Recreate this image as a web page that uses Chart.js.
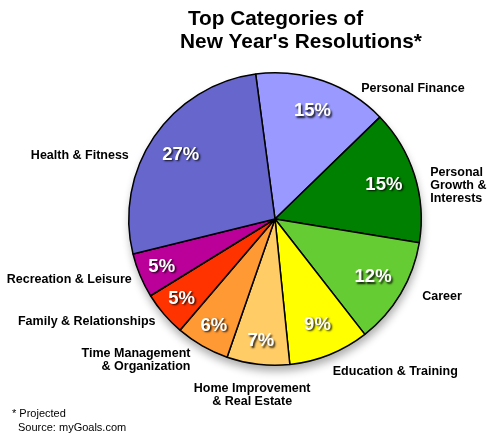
<!DOCTYPE html>
<html>
<head>
<meta charset="utf-8">
<script src="https://cdn.jsdelivr.net/npm/chart.js@4/dist/chart.umd.min.js"></script>
<style>
html,body{margin:0;padding:0;background:#fff;}
#wrap{width:489px;height:436px;position:relative;}
</style>
</head>
<body>
<div id="wrap"><canvas id="c" width="489" height="436"></canvas></div>
<script>
// ---- data ----
const categories = [
  'Personal Finance',
  ['Personal', 'Growth &', 'Interests'],
  'Career',
  'Education & Training',
  ['Home Improvement', '& Real Estate'],
  ['Time Management', '& Organization'],
  'Family & Relationships',
  'Recreation & Leisure',
  'Health & Fitness'
];
const shares = [15, 15, 12, 9, 7, 6, 5, 5, 27];
const titleLines = ['Top Categories of', "New Year's Resolutions*"];
const footnoteLines = ['* Projected', 'Source: myGoals.com'];

// ---- styles / layout ----
const sliceColors = ['#9999FF', '#008000', '#66CC33', '#FFFF00', '#FFCC66', '#FF9933', '#FF3300', '#BB0099', '#6666CC'];
// label anchor: angle (deg, clockwise from top), distance as fraction of radius, text alignment
const labelPlacement = [
  {angle: 46.5, dist: 1.30, align: 'center'},
  {angle: 77.7, dist: 1.086, align: 'left'},
  {angle: 117.8, dist: 1.138, align: 'left'},
  {angle: 141.7, dist: 1.327, align: 'center'},
  {angle: 187.4, dist: 1.211, align: 'center'},
  {angle: 210.9, dist: 1.126, align: 'right'},
  {angle: 229.4, dist: 1.076, align: 'right'},
  {angle: 247.0, dist: 1.064, align: 'right'},
  {angle: 293.5, dist: 1.09, align: 'right'}
];
const FONT = '"Liberation Sans", Arial, Helvetica, sans-serif';

const pieShadow = {
  id: 'pieShadow',
  beforeDatasetsDraw(chart) {
    const arc = chart.getDatasetMeta(0).data[0];
    if (!arc) return;
    const {x, y, outerRadius} = arc.getProps(['x', 'y', 'outerRadius'], true);
    const ctx = chart.ctx;
    ctx.save();
    ctx.shadowColor = 'rgba(0,0,0,0.32)';
    ctx.shadowBlur = 9;
    ctx.shadowOffsetX = 1;
    ctx.shadowOffsetY = 6;
    ctx.beginPath();
    ctx.arc(x, y, outerRadius, 0, Math.PI * 2);
    ctx.fillStyle = '#999';
    ctx.fill();
    ctx.restore();
  }
};

const pieLabels = {
  id: 'pieLabels',
  afterDatasetsDraw(chart) {
    const ctx = chart.ctx;
    const meta = chart.getDatasetMeta(0);
    const values = chart.data.datasets[0].data;
    const labels = chart.data.labels;
    meta.data.forEach((arc, i) => {
      const p = arc.getProps(['x', 'y', 'startAngle', 'endAngle', 'outerRadius'], true);
      const mid = (p.startAngle + p.endAngle) / 2;
      // percentage inside
      const rf = values[i] >= 9 ? 0.78 : 0.84;
      const px = p.x + Math.cos(mid) * p.outerRadius * rf;
      const py = p.y + Math.sin(mid) * p.outerRadius * rf;
      ctx.save();
      ctx.font = 'bold 18.5px ' + FONT;
      ctx.textAlign = 'center';
      ctx.textBaseline = 'middle';
      ctx.shadowColor = 'rgba(0,0,0,0.85)';
      ctx.shadowBlur = 2;
      ctx.shadowOffsetX = 1.5;
      ctx.shadowOffsetY = 1.5;
      ctx.fillStyle = '#fff';
      ctx.fillText(values[i] + '%', px, py);
      ctx.restore();
      // category label outside
      const lp = labelPlacement[i];
      const a = (lp.angle - 90) * Math.PI / 180;
      const lx = p.x + Math.cos(a) * p.outerRadius * lp.dist;
      const ly = p.y + Math.sin(a) * p.outerRadius * lp.dist;
      const lines = Array.isArray(labels[i]) ? labels[i] : [labels[i]];
      const lh = 13;
      ctx.save();
      ctx.font = 'bold 12.5px ' + FONT;
      ctx.fillStyle = '#000';
      ctx.textAlign = lp.align;
      ctx.textBaseline = 'middle';
      lines.forEach((t, k) => {
        ctx.fillText(t, lx, ly + (k - (lines.length - 1) / 2) * lh);
      });
      ctx.restore();
    });
  }
};

const headerFooter = {
  id: 'headerFooter',
  afterDraw(chart) {
    const ctx = chart.ctx;
    ctx.save();
    ctx.fillStyle = '#000';
    ctx.textBaseline = 'alphabetic';
    ctx.font = 'bold 20.8px ' + FONT;
    ctx.textAlign = 'center';
    ctx.fillText(titleLines[0], 275.5, 25);
    ctx.fillText(titleLines[1], 301, 48);
    ctx.font = '11px ' + FONT;
    ctx.textAlign = 'left';
    ctx.textBaseline = 'middle';
    ctx.fillText(footnoteLines[0], 12, 414);
    ctx.fillText(footnoteLines[1], 18, 428);
    ctx.restore();
  }
};

new Chart(document.getElementById('c'), {
  type: 'pie',
  data: {
    labels: categories,
    datasets: [{
      data: shares,
      backgroundColor: sliceColors,
      borderColor: '#000',
      borderWidth: 1.5
    }]
  },
  options: {
    responsive: false,
    animation: false,
    devicePixelRatio: 1,
    rotation: -7.6,
    layout: {padding: {left: 128, right: 67, top: 72, bottom: 70}},
    plugins: {
      legend: {display: false},
      title: {display: false},
      tooltip: {enabled: false}
    }
  },
  plugins: [pieShadow, pieLabels, headerFooter]
});
</script>
</body>
</html>
